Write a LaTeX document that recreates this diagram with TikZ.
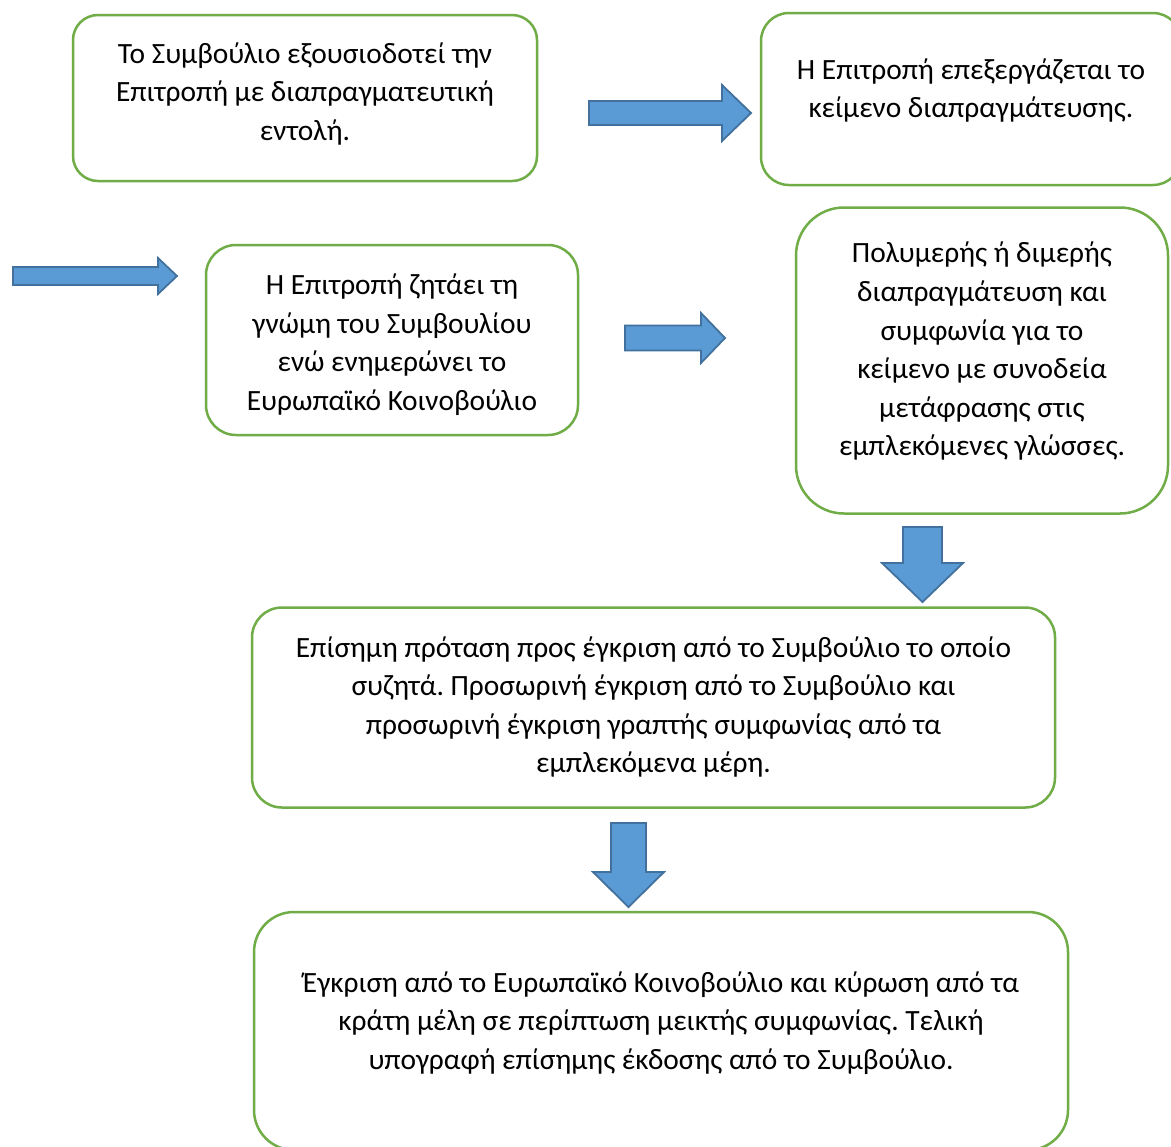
\documentclass[tikz,border=0pt]{standalone}
\usepackage{fontspec}
\setmainfont{Carlito}
\frenchspacing
\usetikzlibrary{calc}
\definecolor{stagegreen}{HTML}{70AD47}
\definecolor{arrowblue}{HTML}{5B9BD5}
\definecolor{arrowedge}{HTML}{41719C}
\newcommand*{\flowarrow}[5][6pt]{%
  \coordinate (#2-head) at ($(#3)!#5!(#2)$);
  \draw[blockarrow] ($(#2)!#1!90:(#3)$) -- ($(#2-head)!#1!90:(#3)$) -- ($(#2-head)!#4!90:(#3)$) -- (#3)
    -- ($(#2-head)!#4!-90:(#3)$) -- ($(#2-head)!#1!-90:(#3)$) -- ($(#2)!#1!-90:(#3)$) -- cycle;
}

\begin{document}
\begin{tikzpicture}[x=0.5pt, y=-0.5pt,
    stage/.style     = {draw=stagegreen, line width=1.25pt, fill=white, rounded corners=#1},
    stage/.default   = 14pt,
    stagetext/.style = {align=center, inner sep=0pt, font=\fontsize{14.7}{19.3}\selectfont},
    blockarrow/.style = {draw=arrowedge, fill=arrowblue, line width=0.9pt, line join=miter}
  ]
  \path[use as bounding box, fill=white] (0,0) rectangle (1171,1146);

  \node[stage=12.5pt, minimum width=232pt, minimum height=83pt] (mandate) at (305,98) {};
  \node[stage=14pt, minimum width=210pt, minimum height=86pt] (draft) at (971,99) {};
  \node[stage=15pt, minimum width=186pt, minimum height=95pt] (opinion) at (392,340) {};
  \node[stage=24pt, minimum width=186pt, minimum height=153pt] (negotiation) at (982,360.5) {};
  \node[stage=15pt, minimum width=401.5pt, minimum height=100pt] (proposal) at (653.5,707.5) {};
  \node[stage=20pt, minimum width=407pt, minimum height=119pt] (approval) at (661,1031) {};

  \node[stagetext] (mandateT) at (305,94) {Το Συμβούλιο εξουσιοδοτεί την\\Επιτροπή με διαπραγματευτική\\εντολή.};
  \node[stagetext] (draftT) at (971,90.5) {Η Επιτροπή επεξεργάζεται το\\κείμενο διαπραγμάτευσης.};
  \node[stagetext] (opinionT) at (392,344.5) {Η Επιτροπή ζητάει τη\\γνώμη του Συμβουλίου\\ενώ ενημερώνει το\\Ευρωπαϊκό Κοινοβούλιο};
  \node[stagetext] (negotiationT) at (982,351.5) {Πολυμερής ή διμερής\\διαπραγμάτευση και\\συμφωνία για το\\κείμενο με συνοδεία\\μετάφρασης στις\\εμπλεκόμενες γλώσσες.};
  \node[stagetext] (proposalT) at (653.5,707) {Επίσημη πρόταση προς έγκριση από το Συμβούλιο το οποίο\\συζητά. Προσωρινή έγκριση από το Συμβούλιο και\\προσωρινή έγκριση γραπτής συμφωνίας από τα\\εμπλεκόμενα μέρη.};
  \node[stagetext] (approvalT) at (661,1023) {Έγκριση από το Ευρωπαϊκό Κοινοβούλιο και κύρωση από τα\\κράτη μέλη σε περίπτωση μεικτής συμφωνίας. Τελική\\υπογραφή επίσημης έκδοσης από το Συμβούλιο.};

  \coordinate (toDraft) at (589,113);     \coordinate (draftTip) at (751,113);
  \coordinate (toOpinion) at (13,276);    \coordinate (opinionTip) at (177,276);
  \coordinate (toNego) at (625,338);      \coordinate (negoTip) at (725,338);
  \coordinate (toProposal) at (922.5,527); \coordinate (proposalTip) at (922.5,602);
  \coordinate (toApproval) at (628.5,823); \coordinate (approvalTip) at (628.5,907);

  \flowarrow[6pt]{toDraft}{draftTip}{14pt}{14.5pt}
  \flowarrow[4.5pt]{toOpinion}{opinionTip}{9pt}{9.5pt}
  \flowarrow[6.25pt]{toNego}{negoTip}{12.5pt}{12pt}
  \flowarrow[9.75pt]{toProposal}{proposalTip}{20.25pt}{19.5pt}
  \flowarrow[8.75pt]{toApproval}{approvalTip}{17.75pt}{17.5pt}
\end{tikzpicture}
\end{document}
